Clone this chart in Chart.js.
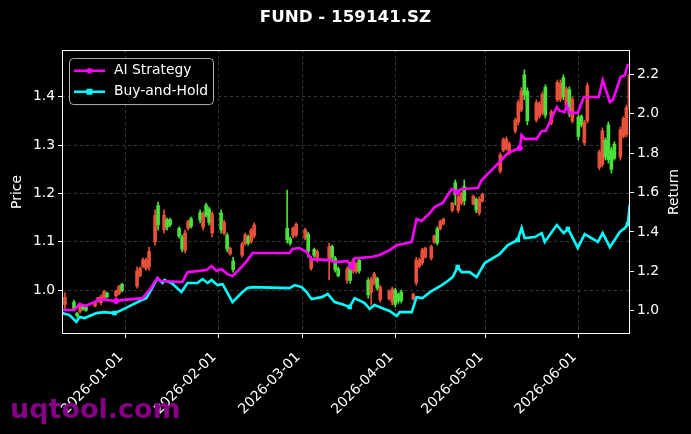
<!DOCTYPE html>
<html>
<head>
<meta charset="utf-8">
<title>FUND - 159141.SZ</title>
<script src="https://cdn.jsdelivr.net/npm/chart.js@4.4.1/dist/chart.umd.min.js"></script>
<style>
    html, body { margin: 0; padding: 0; background: #000; }
    #wrap { width: 691px; height: 434px; position: relative; }
</style>
</head>
<body>
<div id="wrap"><canvas id="chart"></canvas></div>
<script>
// ===== Dữ liệu (ngày tính từ 2026-01-01 = 0) =====
const candleDays = [-20, -17, -16, -15, -14, -13, -10, -9, -8, -7, -6, -3, -2, -1,
    4, 5, 6, 7, 8, 10, 11, 13, 14, 15, 18, 19, 20, 21, 22, 25, 26, 27, 28, 29,
    32, 33, 34, 35, 36, 39, 40, 41, 42, 43, 54, 55, 56, 57, 60, 61, 62, 63, 64,
    68, 69, 70, 71, 74, 75, 76, 77, 78, 81, 82, 83, 84, 85, 88, 89, 90, 91, 92,
    96, 97, 98, 99, 100, 102, 103, 104, 105, 106, 109, 110, 111, 112, 113, 116, 117, 118, 119,
    125, 126, 127, 128, 130, 131, 132, 133, 134, 137, 138, 139, 140, 142, 144, 145, 146, 147, 148, 149,
    151, 152, 153, 154, 158, 159, 160, 161, 162, 163, 165, 166, 167, 168];
const opens = [0.970, 0.975, 0.952, 0.956, 0.967, 0.964, 0.967, 0.977, 0.974, 0.982, 0.994, 0.988, 0.993, 1.012,
    1.008, 1.030, 1.049, 1.045, 1.048, 1.100, 1.175, 1.125, 1.146, 1.146, 1.128, 1.110, 1.082, 1.128, 1.148, 1.160, 1.130, 1.176, 1.168, 1.118,
    1.160, 1.118, 1.114, 1.075, 1.060, 1.072, 1.096, 1.110, 1.100, 1.112, 1.128, 1.106, 1.112, 1.114, 1.108, 1.116, 1.045, 1.084, 1.062,
    1.060, 1.090, 1.066, 1.044, 1.020, 1.054, 1.040, 1.038, 1.062, 1.020, 0.995, 1.014, 1.024, 0.980, 0.982, 0.975, 1.000, 0.991, 0.996,
    0.982, 1.015, 1.049, 1.056, 1.068, 1.066, 1.099, 1.127, 1.127, 1.137, 1.165, 1.222, 1.165, 1.180, 1.215, 1.178, 1.188, 1.160, 1.184,
    1.246, 1.289, 1.293, 1.284, 1.329, 1.348, 1.373, 1.446, 1.412, 1.352, 1.360, 1.367, 1.420, 1.346, 1.394, 1.395, 1.440, 1.383, 1.415, 1.350,
    1.358, 1.360, 1.305, 1.350, 1.254, 1.260, 1.310, 1.342, 1.290, 1.302, 1.275, 1.318, 1.322, 1.380];
const highs = [0.995, 0.979, 0.954, 0.973, 0.969, 0.965, 0.975, 0.985, 0.990, 1.000, 0.996, 1.000, 1.010, 1.014,
    1.048, 1.048, 1.066, 1.066, 1.089, 1.166, 1.182, 1.166, 1.149, 1.149, 1.131, 1.114, 1.124, 1.145, 1.151, 1.166, 1.162, 1.180, 1.172, 1.162,
    1.166, 1.145, 1.118, 1.089, 1.068, 1.099, 1.118, 1.114, 1.128, 1.139, 1.207, 1.110, 1.131, 1.139, 1.128, 1.120, 1.070, 1.087, 1.083,
    1.097, 1.093, 1.070, 1.048, 1.048, 1.058, 1.066, 1.058, 1.066, 1.025, 1.027, 1.037, 1.027, 1.010, 1.000, 1.006, 1.004, 0.994, 1.000,
    0.994, 1.068, 1.066, 1.087, 1.089, 1.093, 1.114, 1.131, 1.145, 1.149, 1.182, 1.228, 1.197, 1.203, 1.228, 1.197, 1.191, 1.193, 1.201,
    1.284, 1.315, 1.317, 1.307, 1.356, 1.394, 1.419, 1.456, 1.419, 1.394, 1.390, 1.410, 1.425, 1.373, 1.435, 1.435, 1.446, 1.421, 1.421, 1.400,
    1.363, 1.363, 1.352, 1.429, 1.290, 1.336, 1.315, 1.348, 1.296, 1.307, 1.338, 1.359, 1.383, 1.450];
const lows = [0.960, 0.958, 0.944, 0.952, 0.958, 0.956, 0.965, 0.975, 0.969, 0.979, 0.983, 0.985, 0.990, 0.996,
    1.004, 1.027, 1.046, 1.041, 1.041, 1.093, 1.124, 1.118, 1.124, 1.131, 1.108, 1.079, 1.077, 1.124, 1.128, 1.139, 1.124, 1.151, 1.135, 1.110,
    1.118, 1.114, 1.079, 1.072, 1.037, 1.068, 1.093, 1.093, 1.097, 1.108, 1.097, 1.093, 1.108, 1.110, 1.104, 1.068, 1.041, 1.068, 1.058,
    1.021, 1.062, 1.037, 1.027, 1.014, 1.014, 1.035, 1.035, 1.035, 0.983, 0.969, 1.010, 1.000, 0.975, 0.979, 0.969, 0.965, 0.973, 0.973,
    0.979, 1.010, 1.046, 1.052, 1.066, 1.062, 1.097, 1.093, 1.124, 1.135, 1.162, 1.176, 1.160, 1.176, 1.176, 1.176, 1.160, 1.155, 1.182,
    1.242, 1.286, 1.290, 1.280, 1.325, 1.342, 1.369, 1.394, 1.342, 1.348, 1.356, 1.363, 1.356, 1.342, 1.390, 1.390, 1.394, 1.379, 1.359, 1.346,
    1.311, 1.338, 1.300, 1.346, 1.249, 1.255, 1.269, 1.263, 1.242, 1.269, 1.269, 1.315, 1.317, 1.373];
const closes = [0.985, 0.962, 0.947, 0.970, 0.961, 0.958, 0.974, 0.984, 0.986, 0.997, 0.986, 0.998, 1.007, 0.999,
    1.040, 1.045, 1.063, 1.062, 1.080, 1.155, 1.135, 1.155, 1.130, 1.135, 1.112, 1.085, 1.118, 1.142, 1.132, 1.145, 1.158, 1.155, 1.140, 1.158,
    1.125, 1.140, 1.085, 1.086, 1.042, 1.095, 1.114, 1.097, 1.124, 1.135, 1.104, 1.097, 1.128, 1.136, 1.125, 1.080, 1.066, 1.072, 1.080,
    1.090, 1.068, 1.042, 1.030, 1.044, 1.020, 1.062, 1.055, 1.040, 0.990, 1.022, 1.033, 1.004, 1.006, 0.997, 1.002, 0.970, 0.977, 0.978,
    0.991, 1.062, 1.062, 1.083, 1.086, 1.090, 1.112, 1.097, 1.142, 1.147, 1.180, 1.197, 1.193, 1.200, 1.185, 1.194, 1.165, 1.188, 1.198,
    1.280, 1.311, 1.313, 1.303, 1.352, 1.388, 1.412, 1.404, 1.350, 1.388, 1.386, 1.405, 1.362, 1.369, 1.430, 1.428, 1.400, 1.417, 1.365, 1.395,
    1.318, 1.342, 1.347, 1.423, 1.286, 1.330, 1.275, 1.270, 1.250, 1.273, 1.332, 1.355, 1.378, 1.445];

// Đường lợi nhuận (trục phải)
const aiDays = [-21, -16.9, -15.2, -13.2, -10.2, -8.5, -2.9, -1.2, 5.8, 8.1, 10.8, 11.8, 19.1, 20.8, 27.1, 28.8, 30.5, 32.1,
    34.1, 35.8, 38.8, 40.8, 42.5, 54.8, 55.8, 58.1, 60.5, 62.1, 68.1, 69.8, 74.1, 75.5, 76.5, 82.1, 84.8, 88.1, 90.5, 95.5,
    97.1, 98.8, 101.5, 103.1, 105.8, 108.8, 110.5, 112.1, 117.5, 118.8, 124.8, 127.5, 129.8, 131.5, 132.1, 133.1, 137.1, 138.8, 140.1, 143.8,
    144.8, 146.5, 147.1, 148.1, 150.8, 152.8, 157.8, 159.1, 161.5, 162.5, 165.1, 166.5, 167.5];
const aiValues = [1.004, 1.004, 1.034, 1.024, 1.044, 1.059, 1.049, 1.054, 1.064, 1.105, 1.166, 1.151, 1.146, 1.196, 1.207, 1.227, 1.202, 1.212,
    1.186, 1.176, 1.222, 1.257, 1.293, 1.293, 1.313, 1.318, 1.298, 1.262, 1.257, 1.247, 1.252, 1.222, 1.267, 1.273, 1.283, 1.308, 1.333, 1.349,
    1.465, 1.455, 1.496, 1.526, 1.547, 1.618, 1.603, 1.618, 1.623, 1.663, 1.755, 1.800, 1.816, 1.826, 1.892, 1.872, 1.872, 1.912, 1.912, 2.034,
    2.014, 2.009, 2.044, 2.004, 2.004, 2.085, 2.085, 2.171, 2.059, 2.070, 2.186, 2.196, 2.252];
const bhDays = [-21, -18.5, -16.2, -15.2, -13.5, -9.5, -6.9, -3.5, -1.2, 5.5, 7.1, 10.8, 12.5, 13.1, 15.5, 18.8, 20.8, 24.1, 25.8, 27.5,
    28.8, 30.8, 32.5, 35.8, 39.1, 40.8, 42.5, 54.8, 56.5, 58.8, 60.5, 62.1, 65.5, 67.5, 69.8, 72.1, 74.8, 76.5, 79.8, 81.5,
    83.1, 85.5, 88.1, 90.5, 91.5, 95.5, 97.1, 99.1, 102.1, 103.8, 105.5, 107.5, 109.1, 110.8, 112.1, 114.8, 117.1, 119.8, 124.8, 127.5,
    130.8, 132.1, 133.1, 136.5, 138.8, 139.8, 143.8, 146.1, 147.5, 148.1, 150.8, 153.1, 157.5, 159.1, 161.5, 164.8, 166.5, 167.5, 168.1];
const bhValues = [0.988, 0.978, 0.943, 0.968, 0.963, 0.988, 0.993, 0.988, 1.003, 1.054, 1.064, 1.166, 1.141, 1.156, 1.141, 1.095, 1.141, 1.141, 1.161, 1.141,
    1.156, 1.130, 1.135, 1.044, 1.095, 1.115, 1.120, 1.115, 1.130, 1.120, 1.095, 1.059, 1.069, 1.085, 1.044, 1.034, 1.019, 1.064, 1.039, 1.009,
    1.029, 1.014, 0.999, 0.973, 0.993, 0.993, 1.069, 1.064, 1.100, 1.115, 1.130, 1.151, 1.171, 1.222, 1.196, 1.196, 1.171, 1.242, 1.288, 1.333,
    1.359, 1.420, 1.369, 1.374, 1.394, 1.349, 1.435, 1.394, 1.415, 1.400, 1.319, 1.389, 1.349, 1.394, 1.323, 1.400, 1.420, 1.440, 1.537];
// vài điểm có marker hiện rõ trên đường
const aiMarkDays = [-2.9, 75.5, 110.5, 131.5];
const bhMarkDays = [-3.5, 74.8, 110.8, 130.8, 147.5, 167.5];

// Trục
const tickDays = [0, 31, 59, 90, 120, 151];
const tickLabels = ['2026-01-01', '2026-02-01', '2026-03-01', '2026-04-01', '2026-05-01', '2026-06-01'];
const priceTicks = [1.0, 1.1, 1.2, 1.3, 1.4];
const returnTicks = [1.0, 1.2, 1.4, 1.6, 1.8, 2.0, 2.2];

const UP = '#e8503c', DOWN = '#48e03a';
const FONT = 'DejaVu Sans';
const FS = 13.9;

var candleColors = candleDays.map(function (d, i) { return closes[i] >= opens[i] ? UP : DOWN; });
var wickData = candleDays.map(function (d, i) { return {x: d, y: [lows[i], highs[i]]}; });
var bodyData = candleDays.map(function (d, i) { return {x: d, y: [opens[i], closes[i]]}; });
var aiData = aiDays.map(function (d, i) { return {x: d, y: aiValues[i]}; });
var bhData = bhDays.map(function (d, i) { return {x: d, y: bhValues[i]}; });

// Khung trục, chú thích, nhãn phải và watermark
const overlayPlugin = {
    id: 'overlay',
    afterDraw: function (chart) {
        var ctx = chart.ctx, a = chart.chartArea;
        ctx.save();
        ctx.strokeStyle = '#ffffff';
        ctx.lineWidth = 1;
        ctx.strokeRect(a.left + 0.5, a.top + 0.5, a.right - a.left - 1, a.bottom - a.top - 1);

        // legend
        var lx = a.left + 7, ly = a.top + 8;
        ctx.beginPath();
        ctx.roundRect(lx + 0.5, ly + 0.5, 144, 46, 4);
        ctx.fillStyle = 'rgba(0,0,0,0.8)';
        ctx.fill();
        ctx.strokeStyle = 'rgba(204,204,204,0.85)';
        ctx.stroke();
        chart.data.datasets.slice(0, 2).forEach(function (ds, i) {
            var y = ly + 12.7 + i * 21;
            ctx.strokeStyle = ds.borderColor;
            ctx.lineWidth = 2.5;
            ctx.beginPath();
            ctx.moveTo(lx + 5, y);
            ctx.lineTo(lx + 36, y);
            ctx.stroke();
            ctx.fillStyle = ds.borderColor;
            if (ds.pointStyle === 'rect') {
                ctx.fillRect(lx + 17.5, y - 3, 6, 6);
            } else {
                ctx.beginPath();
                ctx.arc(lx + 20.5, y, 2.8, 0, Math.PI * 2);
                ctx.fill();
            }
            ctx.fillStyle = '#ffffff';
            ctx.font = FS + 'px "' + FONT + '"';
            ctx.textBaseline = 'middle';
            ctx.textAlign = 'left';
            ctx.fillText(ds.label, lx + 45, y);
        });

        // nhãn trục phải (xoay giống matplotlib)
        ctx.save();
        ctx.translate(674, (a.top + a.bottom) / 2);
        ctx.rotate(-Math.PI / 2);
        ctx.fillStyle = '#ffffff';
        ctx.font = FS + 'px "' + FONT + '"';
        ctx.textAlign = 'center';
        ctx.textBaseline = 'middle';
        ctx.fillText('Return', 0, 0);
        ctx.restore();

        // watermark
        ctx.fillStyle = '#850085';
        ctx.font = 'bold 27px "' + FONT + '"';
        ctx.textAlign = 'left';
        ctx.textBaseline = 'alphabetic';
        ctx.fillText('uqtool.com', 10, 418);
        ctx.restore();
    }
};

function markRadius(list, r) {
    return function (c) {
        return c.raw && list.indexOf(c.raw.x) >= 0 ? r : 0;
    };
}

var gridColor = 'rgba(128,128,128,0.55)';

new Chart(document.getElementById('chart'), {
    type: 'line',
    data: {
        datasets: [{
                label: 'AI Strategy',
                data: aiData,
                yAxisID: 'y2',
                borderColor: '#ff00ff',
                backgroundColor: '#ff00ff',
                borderWidth: 2.6,
                pointStyle: 'circle',
                pointRadius: markRadius(aiMarkDays, 3),
                pointBorderWidth: 0,
                tension: 0,
                order: 0
            }, {
                label: 'Buy-and-Hold',
                data: bhData,
                yAxisID: 'y2',
                borderColor: '#00ffff',
                backgroundColor: '#00ffff',
                borderWidth: 2.6,
                pointStyle: 'rect',
                pointRadius: markRadius(bhMarkDays, 3.2),
                pointBorderWidth: 0,
                tension: 0,
                order: 1
            }, {
                type: 'bar',
                label: 'wick',
                data: wickData,
                yAxisID: 'y',
                backgroundColor: candleColors,
                barThickness: 1,
                grouped: false,
                borderWidth: 0,
                order: 3
            }, {
                type: 'bar',
                label: 'body',
                data: bodyData,
                yAxisID: 'y',
                backgroundColor: candleColors,
                barThickness: 3,
                grouped: false,
                borderWidth: 0,
                order: 2
            }]
    },
    options: {
        responsive: true,
        maintainAspectRatio: false,
        animation: false,
        events: [],
        layout: {padding: 0},
        plugins: {
            legend: {display: false},
            tooltip: {enabled: false},
            title: {
                display: true,
                text: 'FUND - 159141.SZ',
                color: '#ffffff',
                font: {family: FONT, size: 16.7, weight: 'bold', lineHeight: 1.2},
                padding: {top: 8, bottom: 22}
            }
        },
        scales: {
            x: {
                type: 'linear',
                min: -21,
                max: 168.2,
                offset: false,
                afterBuildTicks: function (s) {
                    s.ticks = tickDays.map(function (v) { return {value: v}; });
                },
                afterFit: function (s) { s.height = 100; },
                ticks: {
                    color: '#ffffff',
                    font: {family: FONT, size: FS},
                    autoSkip: false,
                    minRotation: 45,
                    maxRotation: 45,
                    padding: 11,
                    labelOffset: -4,
                    callback: function (v) { return tickLabels[tickDays.indexOf(v)]; }
                },
                grid: {color: gridColor, lineWidth: 0.8, offset: false, tickColor: '#ffffff', tickLength: 4, tickWidth: 1},
                border: {display: false, dash: [3, 3]}
            },
            y: {
                position: 'left',
                min: 0.909,
                max: 1.497,
                afterBuildTicks: function (s) {
                    s.ticks = priceTicks.map(function (v) { return {value: v}; });
                },
                afterFit: function (s) { s.width = 62; },
                ticks: {
                    color: '#ffffff',
                    font: {family: FONT, size: FS},
                    padding: 3,
                    callback: function (v) { return v.toFixed(1); }
                },
                title: {display: true, text: 'Price', color: '#ffffff', font: {family: FONT, size: FS}, padding: {top: 9}},
                grid: {color: gridColor, lineWidth: 0.8, tickColor: '#ffffff', tickLength: 4, tickWidth: 1},
                border: {display: false, dash: [3, 3]}
            },
            y2: {
                position: 'right',
                min: 0.882,
                max: 2.323,
                afterBuildTicks: function (s) {
                    s.ticks = returnTicks.map(function (v) { return {value: v}; });
                },
                afterFit: function (s) { s.width = 61; },
                ticks: {
                    color: '#ffffff',
                    font: {family: FONT, size: FS},
                    padding: 3,
                    callback: function (v) { return v.toFixed(1); }
                },
                grid: {drawOnChartArea: false, tickColor: '#ffffff', tickLength: 4, tickWidth: 1},
                border: {display: false}
            }
        }
    },
    plugins: [overlayPlugin]
});
</script>
</body>
</html>
